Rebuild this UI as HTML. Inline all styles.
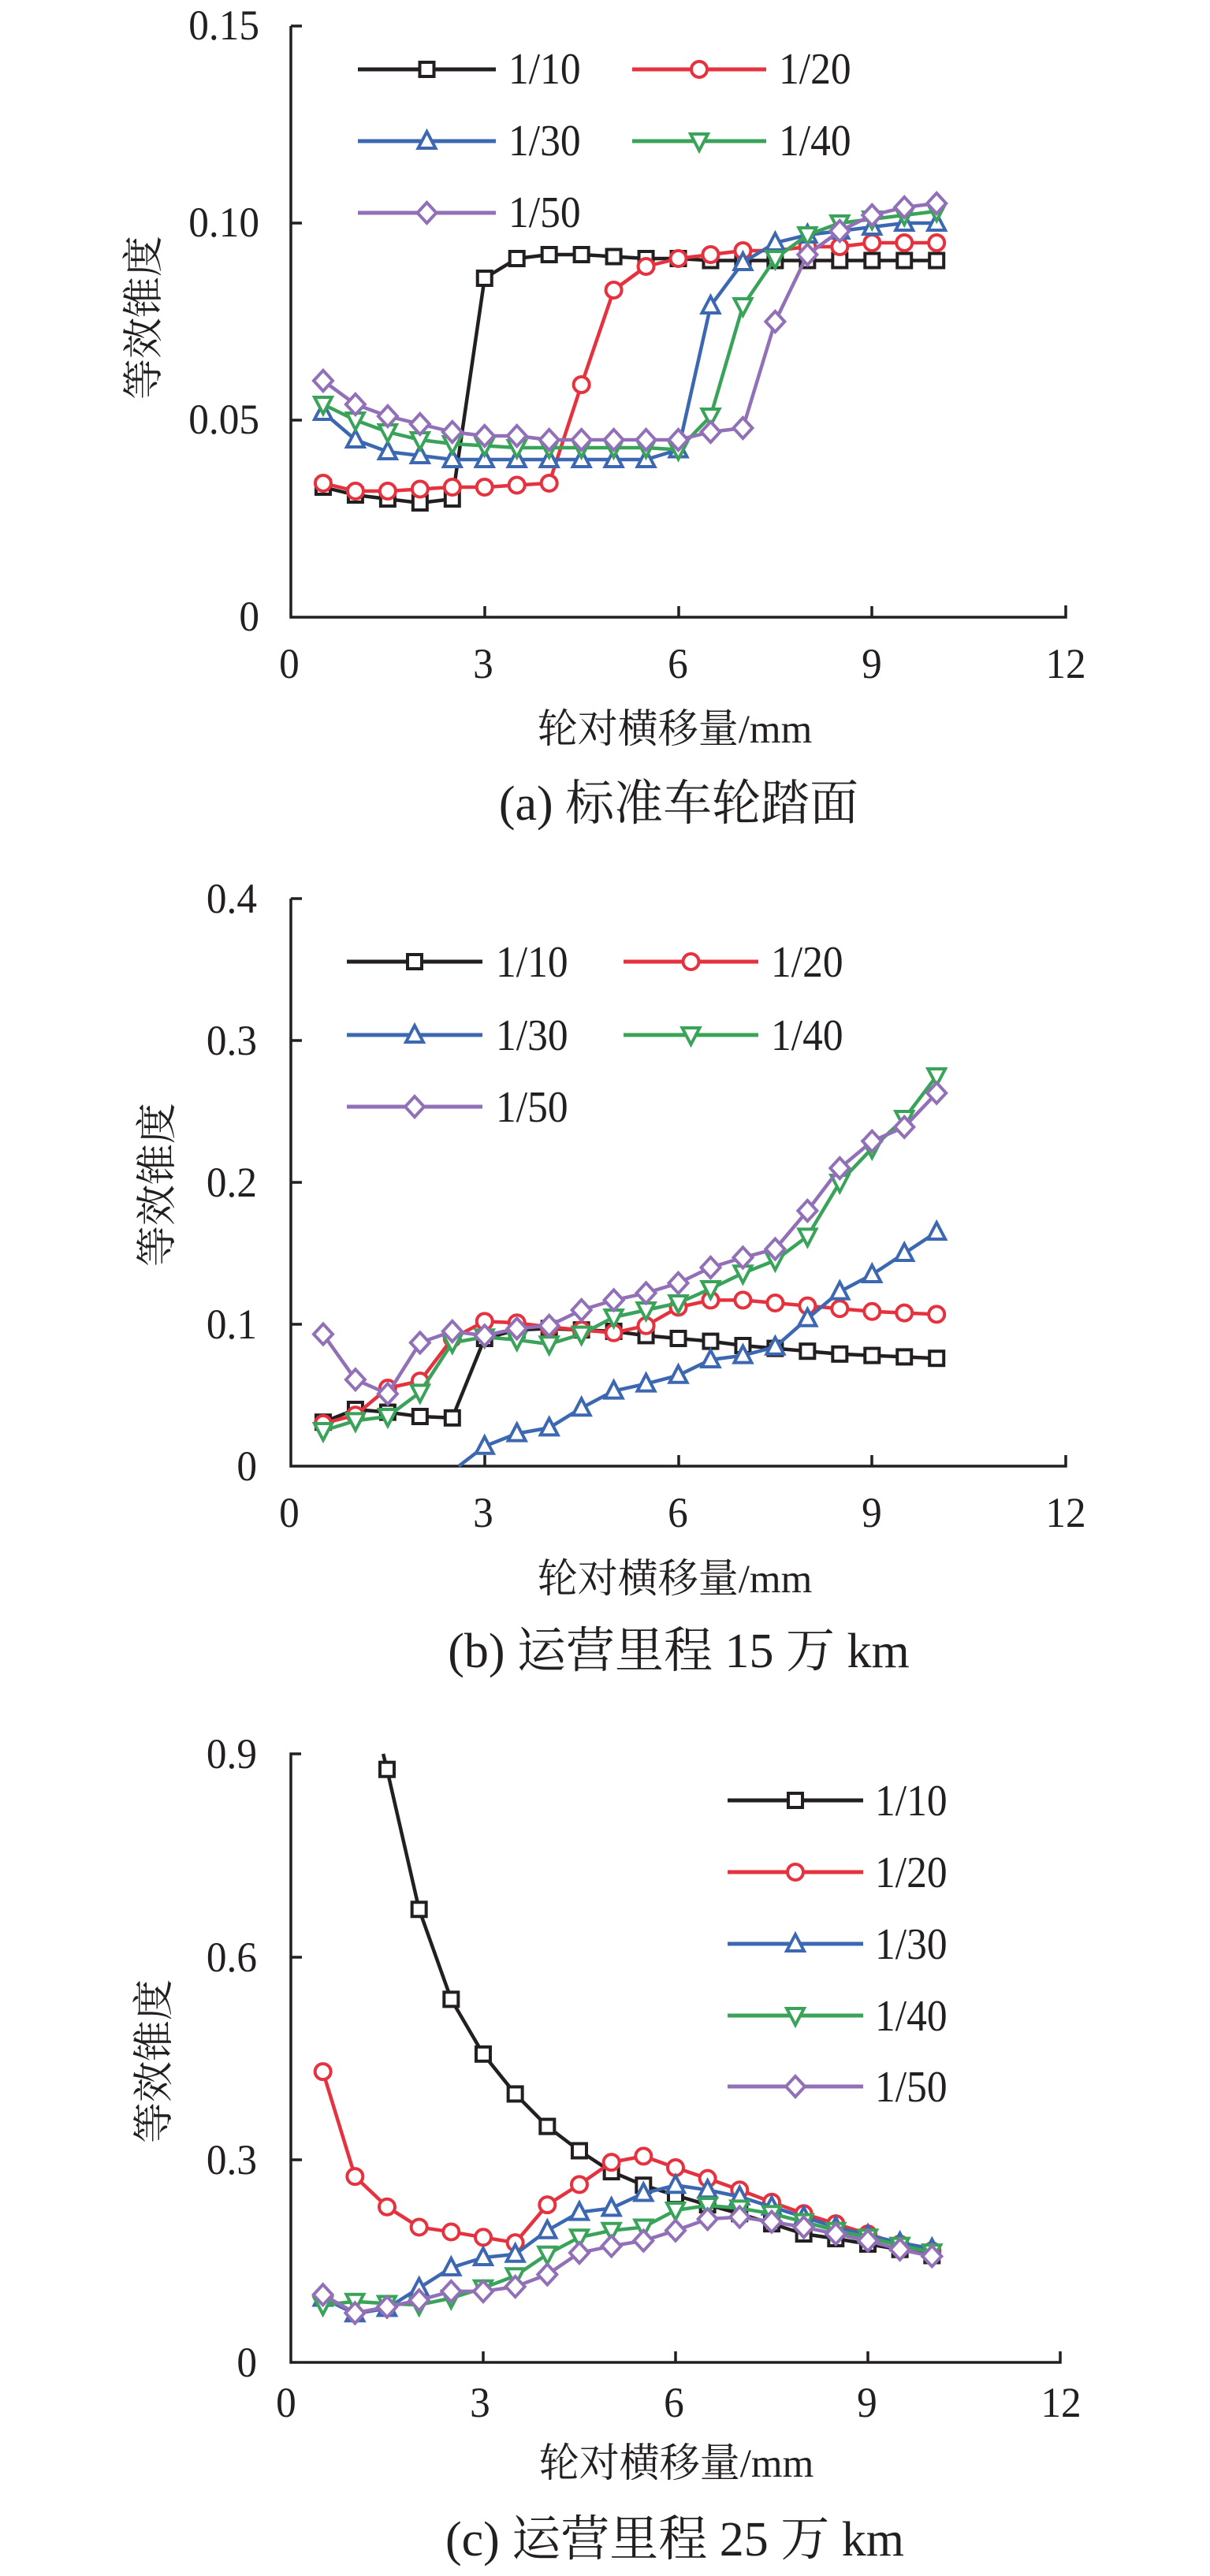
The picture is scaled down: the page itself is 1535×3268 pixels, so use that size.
<!DOCTYPE html>
<html><head><meta charset="utf-8">
<style>
html,body{margin:0;padding:0;background:#fff;}
svg{display:block;}
text{font-family:"Liberation Serif","Noto Serif CJK SC",serif;fill:#231f20;}
.cj{font-family:"Liberation Serif","Noto Serif CJK SC",serif;}
</style></head>
<body>
<svg id="s" width="1535" height="3268" viewBox="0 0 1535 3268" xmlns="http://www.w3.org/2000/svg">
<rect width="1535" height="3268" fill="#fff"/>
<g fill="none" stroke="#231f20" stroke-width="3.5">
<polyline points="369,33 369,783 1352,783 1352,768"/>
<line x1="369" y1="33" x2="383" y2="33"/><line x1="369" y1="283" x2="383" y2="283"/><line x1="369" y1="533" x2="383" y2="533"/>
<line x1="615" y1="783" x2="615" y2="769"/><line x1="861" y1="783" x2="861" y2="769"/><line x1="1106" y1="783" x2="1106" y2="769"/>
<polyline points="369,1140 369,1860 1352,1860 1352,1846"/>
<line x1="369" y1="1140" x2="383" y2="1140"/><line x1="369" y1="1320" x2="383" y2="1320"/><line x1="369" y1="1500" x2="383" y2="1500"/><line x1="369" y1="1680" x2="383" y2="1680"/>
<line x1="615" y1="1860" x2="615" y2="1846"/><line x1="861" y1="1860" x2="861" y2="1846"/><line x1="1106" y1="1860" x2="1106" y2="1846"/>
<polyline points="382,2225 369,2225 369,2997 1345,2997 1345,2983"/>
<line x1="369" y1="2483" x2="383" y2="2483"/><line x1="369" y1="2740" x2="383" y2="2740"/>
<line x1="613" y1="2997" x2="613" y2="2983"/><line x1="857" y1="2997" x2="857" y2="2983"/><line x1="1101" y1="2997" x2="1101" y2="2983"/>
</g>
<g id="data"></g>

<g font-size="54" text-anchor="end">
<text transform="translate(329,50) scale(0.95,1)">0.15</text>
<text transform="translate(329,300) scale(0.95,1)">0.10</text>
<text transform="translate(329,550) scale(0.95,1)">0.05</text>
<text transform="translate(329,800) scale(0.95,1)">0</text>
</g>
<g font-size="54" text-anchor="middle">
<text transform="translate(367,860) scale(0.95,1)">0</text>
<text transform="translate(613,860) scale(0.95,1)">3</text>
<text transform="translate(860,860) scale(0.95,1)">6</text>
<text transform="translate(1106,860) scale(0.95,1)">9</text>
<text transform="translate(1352,860) scale(0.95,1)">12</text>
</g>
<text class="cj" font-size="51" text-anchor="middle" transform="translate(856,942)">轮对横移量/mm</text>
<text class="cj" font-size="62" text-anchor="middle" transform="translate(861,1040)">(a) 标准车轮踏面</text>
<text class="cj" font-size="52" text-anchor="middle" transform="translate(200,403) rotate(-90)">等效锥度</text>
<g font-size="56">
<text transform="translate(645,106) scale(0.92,1)">1/10</text>
<text transform="translate(988,106) scale(0.92,1)">1/20</text>
<text transform="translate(645,197) scale(0.92,1)">1/30</text>
<text transform="translate(988,197) scale(0.92,1)">1/40</text>
<text transform="translate(645,288) scale(0.92,1)">1/50</text>
</g>

<g font-size="54" text-anchor="end">
<text transform="translate(326,1158) scale(0.95,1)">0.4</text>
<text transform="translate(326,1338) scale(0.95,1)">0.3</text>
<text transform="translate(326,1518) scale(0.95,1)">0.2</text>
<text transform="translate(326,1698) scale(0.95,1)">0.1</text>
<text transform="translate(326,1878) scale(0.95,1)">0</text>
</g>
<g font-size="54" text-anchor="middle">
<text transform="translate(367,1937) scale(0.95,1)">0</text>
<text transform="translate(613,1937) scale(0.95,1)">3</text>
<text transform="translate(860,1937) scale(0.95,1)">6</text>
<text transform="translate(1106,1937) scale(0.95,1)">9</text>
<text transform="translate(1352,1937) scale(0.95,1)">12</text>
</g>
<text class="cj" font-size="51" text-anchor="middle" transform="translate(856,2020)">轮对横移量/mm</text>
<text class="cj" font-size="62" text-anchor="middle" transform="translate(861,2115)">(b) 运营里程 15 万 km</text>
<text class="cj" font-size="52" text-anchor="middle" transform="translate(217,1503) rotate(-90)">等效锥度</text>
<g font-size="56">
<text transform="translate(629,1239) scale(0.92,1)">1/10</text>
<text transform="translate(978,1239) scale(0.92,1)">1/20</text>
<text transform="translate(629,1332) scale(0.92,1)">1/30</text>
<text transform="translate(978,1332) scale(0.92,1)">1/40</text>
<text transform="translate(629,1423) scale(0.92,1)">1/50</text>
</g>

<g font-size="54" text-anchor="end">
<text transform="translate(326,2243) scale(0.95,1)">0.9</text>
<text transform="translate(326,2501) scale(0.95,1)">0.6</text>
<text transform="translate(326,2758) scale(0.95,1)">0.3</text>
<text transform="translate(326,3015) scale(0.95,1)">0</text>
</g>
<g font-size="54" text-anchor="middle">
<text transform="translate(363,3066) scale(0.95,1)">0</text>
<text transform="translate(609,3066) scale(0.95,1)">3</text>
<text transform="translate(855,3066) scale(0.95,1)">6</text>
<text transform="translate(1100,3066) scale(0.95,1)">9</text>
<text transform="translate(1346,3066) scale(0.95,1)">12</text>
</g>
<text class="cj" font-size="51" text-anchor="middle" transform="translate(858,3142)">轮对横移量/mm</text>
<text class="cj" font-size="62" text-anchor="middle" transform="translate(856,3242)">(c) 运营里程 25 万 km</text>
<text class="cj" font-size="52" text-anchor="middle" transform="translate(213,2615) rotate(-90)">等效锥度</text>
<g font-size="56">
<text transform="translate(1110,2303) scale(0.92,1)">1/10</text>
<text transform="translate(1110,2394) scale(0.92,1)">1/20</text>
<text transform="translate(1110,2485) scale(0.92,1)">1/30</text>
<text transform="translate(1110,2576) scale(0.92,1)">1/40</text>
<text transform="translate(1110,2666) scale(0.92,1)">1/50</text>
</g>
</svg>
<script>
(function(){
var NS="http://www.w3.org/2000/svg",g=document.getElementById("data");
var C=["#231f20","#e5323e","#3c67b1","#3aa35a","#9270b8"],M=["sq","ci","tu","td","di"];
function el(t,a){var e=document.createElementNS(NS,t);for(var k in a)e.setAttribute(k,a[k]);g.appendChild(e);return e;}
function mk(type,x,y,c){
 var a={fill:"#fff",stroke:c,"stroke-width":4,"stroke-linejoin":"miter"};
 if(type=="sq"){a.x=x-9;a.y=y-9;a.width=18;a.height=18;el("rect",a);}
 else if(type=="ci"){a.cx=x;a.cy=y;a.r=10;el("circle",a);}
 else if(type=="tu"){a.points=(x)+","+(y-12)+" "+(x+11)+","+(y+9)+" "+(x-11)+","+(y+9);el("polygon",a);}
 else if(type=="td"){a.points=(x)+","+(y+12)+" "+(x+11)+","+(y-9)+" "+(x-11)+","+(y-9);el("polygon",a);}
 else {a.points=x+","+(y-13)+" "+(x+12)+","+y+" "+x+","+(y+13)+" "+(x-12)+","+y;el("polygon",a);}
}
var X=[];for(var i=1;i<=20;i++)X.push(i*0.5);
function chart(x0,xs,y0,ys,data,extra,leg){
 for(var s=0;s<5;s++){
  var pts=[],d=data[s];
  if(extra[s])pts.push([x0+extra[s][0]*xs,y0-extra[s][1]*ys]);
  var mp=[];
  for(var i=0;i<20;i++){if(d[i]==null)continue;var p=[x0+X[i]*xs,y0-d[i]*ys];pts.push(p);mp.push(p);}
  el("polyline",{points:pts.map(function(p){return p.join(",")}).join(" "),fill:"none",stroke:C[s],"stroke-width":4.5,"stroke-linejoin":"round"});
  mp.forEach(function(p){mk(M[s],p[0],p[1],C[s]);});
 }
 leg.forEach(function(L,s){el("line",{x1:L[0],y1:L[2],x2:L[1],y2:L[2],stroke:C[s],"stroke-width":5});mk(M[s],(L[0]+L[1])/2,L[2],C[s]);});
}
var A=[
[.033,.031,.030,.029,.030,.086,.091,.092,.092,.0915,.091,.091,.0905,.0905,.0905,.0905,.0905,.0905,.0905,.0905],
[.034,.032,.032,.0325,.033,.033,.0335,.034,.059,.083,.089,.091,.092,.093,.093,.094,.094,.095,.095,.095],
[.052,.045,.042,.041,.040,.040,.040,.040,.040,.040,.040,.0425,.079,.090,.095,.097,.098,.099,.100,.100],
[.054,.050,.047,.045,.044,.0435,.043,.043,.043,.043,.043,.0425,.051,.079,.091,.097,.100,.101,.102,.103],
[.060,.054,.051,.049,.047,.046,.046,.045,.045,.045,.045,.045,.047,.048,.075,.092,.098,.102,.104,.105]];
chart(369,81.92,783,5000,A,[],[[454,629,88],[802,972,88],[454,629,179],[802,972,179],[454,629,270]]);
var B=[
[.031,.040,.038,.035,.034,.090,.096,.097,.096,.095,.092,.090,.088,.085,.083,.081,.079,.078,.077,.076],
[.030,.036,.055,.060,.090,.102,.101,.098,.096,.094,.099,.112,.117,.117,.115,.113,.111,.109,.108,.107],
[null,null,null,null,null,.014,.023,.027,.041,.053,.058,.064,.075,.078,.084,.104,.123,.135,.150,.165],
[.025,.032,.035,.052,.087,.091,.089,.086,.093,.105,.110,.115,.125,.136,.145,.162,.200,.224,.245,.275],
[.093,.061,.051,.087,.095,.092,.097,.099,.110,.117,.122,.129,.140,.147,.153,.180,.210,.229,.239,.263]];
chart(369,81.92,1860,1800,B,[null,null,[2.6,0],null,null],[[440,612,1220],[791,962,1220],[440,612,1313],[791,962,1313],[440,612,1404]]);
var Cc=[
[null,null,.877,.670,.537,.456,.397,.349,.313,.282,.262,.247,.233,.220,.205,.190,.183,.175,.167,.158],
[.430,.275,.230,.200,.193,.185,.177,.233,.263,.296,.305,.288,.272,.255,.237,.220,.205,.190,.175,.165],
[.095,.072,.080,.110,.140,.155,.160,.195,.222,.228,.250,.262,.255,.245,.230,.215,.200,.188,.177,.168],
[.085,.090,.087,.085,.095,.110,.128,.160,.185,.195,.200,.225,.232,.228,.220,.208,.195,.185,.173,.163],
[.100,.073,.082,.092,.105,.105,.112,.130,.162,.172,.180,.195,.212,.215,.208,.200,.190,.180,.167,.157]];
chart(369,81.33,2997,857.8,Cc,[[1.44,0.9],null,null,null,null],[[923,1095,2284],[923,1095,2375],[923,1095,2466],[923,1095,2557],[923,1095,2647]]);
})();
</script>
</body></html>
